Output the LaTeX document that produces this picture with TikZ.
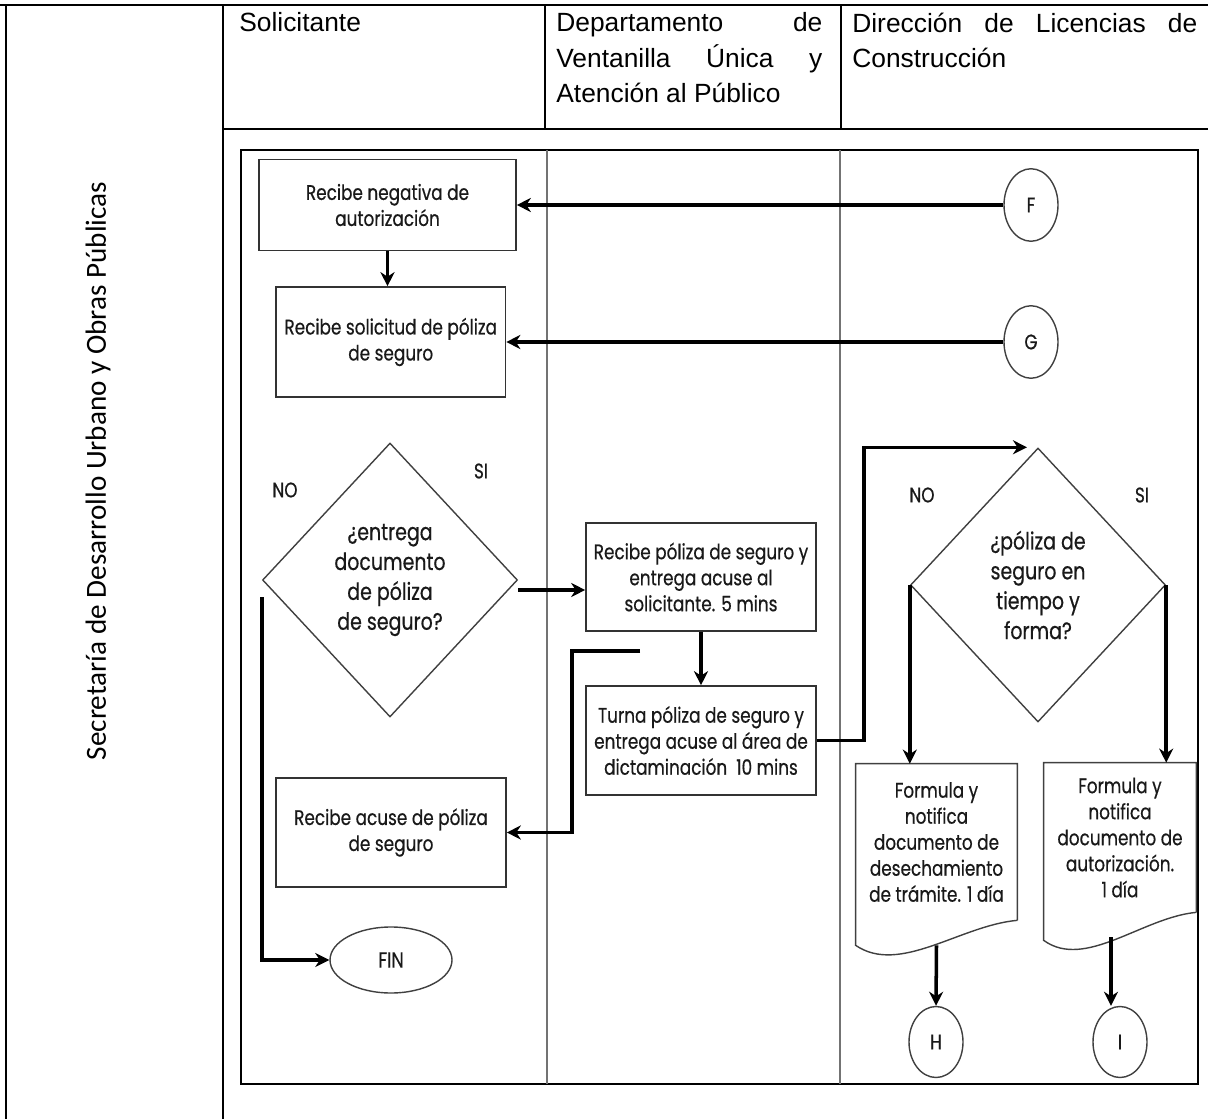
\documentclass[tikz,border=0pt]{standalone}
\usepackage{fontspec}
\setmainfont{Liberation Sans}
\newfontfamily\gothic[FakeStretch=0.8, FakeBold=0.5]{Poppins}
\newfontfamily\calibri{Carlito}
\usetikzlibrary{shapes.geometric, arrows.meta, positioning, calc}
\tikzstyle{arrow} = [line width=2pt,->,>={Stealth[length=8pt,width=8pt]}]

\begin{document}
\begin{tikzpicture}
\tikzstyle{process} = [rectangle, minimum width=4.6cm, minimum height=2.18cm, text centered, align=center, draw=black!80, line width=0.9pt, text=black!90, font=\gothic\fontsize{12}{14.8}\selectfont]
\tikzstyle{decision} = [diamond, minimum width=5.1cm, minimum height=5.48cm, inner sep=0pt, align=center, draw=black!75, line width=0.8pt, text=black!90, font=\gothic\fontsize{13.5}{17}\selectfont]
\tikzstyle{connector} = [ellipse, minimum width=1.08cm, minimum height=1.45cm, inner sep=0pt, draw=black!75, line width=0.8pt, text=black!90, font=\gothic\fontsize{12}{14}\selectfont]
\tikzstyle{docbox} = [rectangle, inner sep=0pt, align=center, text=black!90, font=\gothic\fontsize{12}{14.8}\selectfont]
\tikzstyle{yesno} = [inner sep=0pt, text=black!90, font=\gothic\fontsize{12}{14}\selectfont]
\tikzstyle{header} = [anchor=north west, inner sep=0pt, font=\fontsize{15}{20}\selectfont]
\tikzstyle{rule} = [line width=1.2pt]
\tikzstyle{lane} = [line width=0.6pt, black!55]

\useasboundingbox (0,0) rectangle (24.16,-22.38);

% table
\draw [rule] (0,-0.1) -- (24.16,-0.1);
\draw [rule] (0.12,-0.1) -- (0.12,-22.38);
\draw [rule] (4.46,-0.1) -- (4.46,-22.38);
\draw [rule] (4.46,-2.58) -- (24.16,-2.58);
\draw [rule] (10.9,-0.1) -- (10.9,-2.58);
\draw [rule] (16.82,-0.1) -- (16.82,-2.58);

\node (solicitante) [header] at (4.78,-0.25) {Solicitante};
\node (ventanilla) [header, text width=5.32cm, align=justify] at (11.12,-0.25) {Departamento de\linebreak Ventanilla Única y\linebreak Atención al Público};
\node (licencias) [header, text width=6.9cm, align=justify] at (17.04,-0.25) {Dirección de Licencias de\linebreak Construcción};
\node (secretaria) [rotate=90, font=\calibri\fontsize{16.6}{19}\selectfont] at (1.96,-9.42) {Secretaría de Desarrollo Urbano y Obras Públicas};

% lanes
\draw [line width=1pt] (4.82,-3.0) rectangle (23.96,-21.68);
\draw [lane] (10.94,-3.0) -- (10.94,-21.68);
\draw [lane] (16.8,-3.0) -- (16.8,-21.68);

\node (negativa) [process, minimum width=5.14cm, minimum height=1.82cm] at (7.75,-4.1) {Recibe negativa de\\autorización};
\node (conF) [connector, node distance=12.87cm, right of=negativa] {F};
\node (solicitud) [process, minimum width=4.59cm, minimum height=2.2cm, node distance=2.74cm, below of=negativa, xshift=0.065cm] {Recibe solicitud de póliza\\de seguro};
\node (conG) [connector, node distance=12.805cm, right of=solicitud] {G};
\node (entrega) [decision] at (7.8,-11.6) {¿entrega\\documento\\de póliza\\de seguro?};
\node (recibe) [process, minimum height=2.16cm] at (14.02,-11.54) {Recibe póliza de seguro y\\entrega acuse al\\solicitante. 5 mins};
\node (turna) [process, node distance=3.27cm, below of=recibe] {Turna póliza de seguro y\\entrega acuse al área de\\dictaminación~~10 mins};
\node (acuse) [process] at (7.82,-16.65) {Recibe acuse de póliza\\de seguro};
\node (fin) [connector, minimum width=2.44cm, minimum height=1.32cm, font=\gothic\fontsize{12.5}{14}\selectfont, node distance=2.55cm, below of=acuse] {FIN};
\node (poliza) [decision] at (20.76,-11.7) {¿póliza de\\seguro en\\tiempo y\\forma?};
\node (desecha) [docbox, minimum width=3.22cm, minimum height=3.12cm] at (18.73,-16.84) {Formula y\\notifica\\documento de\\desechamiento\\de trámite. 1 día};
\node (autoriza) [docbox, minimum width=3.04cm, minimum height=2.98cm] at (22.4,-16.75) {Formula y\\notifica\\documento de\\autorización.\\1 día};
\node (conH) [connector, minimum height=1.42cm] at (18.72,-20.84) {H};
\node (conI) [connector, minimum height=1.42cm] at (22.4,-20.84) {I};

\node (noA) [yesno] at (5.7,-9.8) {NO};
\node (siA) [yesno] at (9.62,-9.42) {SI};
\node (noB) [yesno] at (18.44,-9.9) {NO};
\node (siB) [yesno] at (22.84,-9.9) {SI};

% document outlines
\draw [black!75, line width=0.8pt] (desecha.south east) -- (desecha.north east) -- (desecha.north west) -- ([yshift=-0.5cm]desecha.south west) .. controls +(0.88,-0.6) and +(-1.14,-0.1) .. (desecha.south east);
\draw [black!75, line width=0.8pt] (autoriza.south east) -- (autoriza.north east) -- (autoriza.north west) -- ([yshift=-0.56cm]autoriza.south west) .. controls +(0.83,-0.6) and +(-1.08,-0.1) .. (autoriza.south east);

\draw [arrow] (conF.west) -- (negativa.east);
\draw [arrow] (conG.west) -- (solicitud.east);
\draw [arrow] (negativa.south) -- (negativa.south |- solicitud.north);
\draw [arrow] ([yshift=-0.2cm]entrega.east) -- ([yshift=-0.26cm]recibe.west);
\draw [arrow] (recibe) -- (turna);
\coordinate (vuelta) at (12.8,-13.02);
\draw [arrow] (vuelta) -- ++(-1.36,0) |- (acuse.east);
\draw [arrow] (turna.east) -- ++(0.94,0) |- ([xshift=-0.22cm]poliza.north);
\draw [arrow] ([yshift=-0.34cm]entrega.west) |- (fin.west);
\draw [arrow] (poliza.west) -- (poliza.west |- desecha.north);
\draw [arrow] (poliza.east) -- (poliza.east |- autoriza.north);
\draw [arrow] ([yshift=-0.5cm]desecha.south) -- (conH.north);
\draw [arrow] ([xshift=-0.18cm,yshift=-0.5cm]autoriza.south) -- ([xshift=-0.18cm]conI.north);

\end{tikzpicture}
\end{document}
